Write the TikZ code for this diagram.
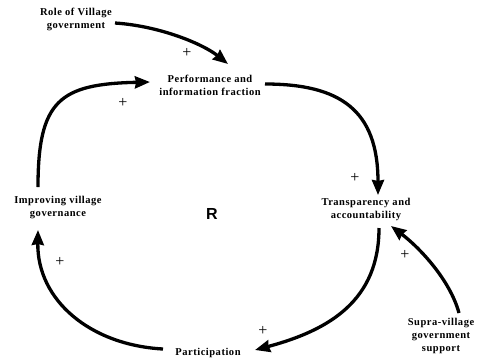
\documentclass[tikz,border=0pt]{standalone}
\usepackage{fontspec}
\setmainfont{Liberation Serif}
\newfontfamily\lblfont[LetterSpace=5]{Liberation Serif}
\newfontfamily\rfont{Liberation Sans}
\usetikzlibrary{arrows.meta}
\begin{document}
\begin{tikzpicture}[x=1pt,y=-1pt,
  var/.style={font=\lblfont\bfseries\fontsize{10.5}{13}\selectfont, align=center, inner sep=1pt},
  link/.style={line width=3.3pt, -{Stealth[length=15pt,width=12pt,inset=1pt]}},
  sign/.style={font=\fontsize{16}{16}\selectfont, inner sep=0pt}]
\useasboundingbox (0,0) rectangle (483,360);

% variables of the loop
\node[var] (role)  at (76,19)   {Role of Village\\government};
\node[var] (perf)  at (210,85)  {Performance and\\information fraction};
\node[var] (impr)  at (58,208)  {Improving village\\governance};
\node[var] (trans) at (366,209) {Transparency and\\accountability};
\node[var] (part)  at (208,353) {Participation};
\node[var] (supra) at (441,336) {Supra-village\\government\\support};
\node[font=\rfont\bfseries\fontsize{16}{16}\selectfont, inner sep=0pt] (R) at (212,214) {R};

% causal links
\draw[link] ([shift={(39,4)}]role.center)
  .. controls +(45,3) and +(-25,-20) .. ([shift={(18,-21)}]perf.center);
\draw[link] ([shift={(-20,-21)}]impr.center)
  .. controls +(0,-87) and +(-90,2) .. ([shift={(-60,-3)}]perf.center);
\draw[link] ([shift={(55,-1)}]perf.center)
  .. controls +(75,0) and +(0,-85) .. ([shift={(12,-14)}]trans.center);
\draw[link] ([shift={(13,19)}]trans.center)
  .. controls +(0,72) and +(75,-20) .. ([shift={(47,-3)}]part.center);
\draw[link] ([shift={(-45,-4)}]part.center)
  .. controls +(-73,-4) and +(-1,70) .. ([shift={(-20,22)}]impr.center);
\draw[link] ([shift={(18,-23)}]supra.center)
  .. controls +(-9,-33) and +(29,22) .. ([shift={(25,17)}]trans.center);

% polarity signs
\node[sign] (p1) at (187,53)  {+};
\node[sign] (p2) at (123,103) {+};
\node[sign] (p3) at (355,178) {+};
\node[sign] (p4) at (60,262)  {+};
\node[sign] (p5) at (405,255) {+};
\node[sign] (p6) at (263,331) {+};
\end{tikzpicture}
\end{document}
